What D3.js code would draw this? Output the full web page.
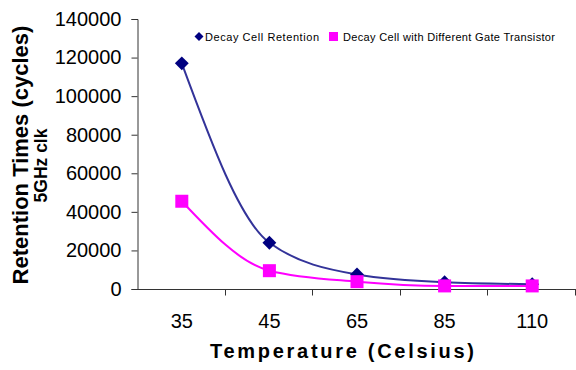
<!DOCTYPE html>
<html>
<head>
<meta charset="utf-8">
<script src="https://cdn.jsdelivr.net/npm/d3@7"></script>
<style>
  html, body { margin: 0; padding: 0; background: #fff; }
  svg { display: block; font-family: "Liberation Sans", Arial, sans-serif; }
</style>
</head>
<body>
<svg id="chart" width="576" height="370"></svg>
<script>
// Retention time (cycles at 5GHz) per temperature category
const temperatures = ["35", "45", "65", "85", "110"];
const decayRetention = [117000, 24000, 7500, 3500, 2500];
const differentGate = [45500, 9500, 3800, 1600, 1600];
const yTicks = [0, 20000, 40000, 60000, 80000, 100000, 120000, 140000];
const seriesNames = ["Decay Cell Retention", "Decay Cell with Different Gate Transistor"];

const svg = d3.select("#chart");
const plotLeft = 138, plotRight = 576, plotTop = 19, plotBottom = 289;

const x = d3.scaleBand().domain(temperatures).range([plotLeft, plotRight]).padding(0);
const y = d3.scaleLinear().domain([0, 140000]).range([plotBottom, plotTop]);
const cx = d => x(d) + x.bandwidth() / 2;

// Y axis
const yAxis = svg.append("g")
  .attr("transform", `translate(${plotLeft - 0.5},0)`)
  .call(d3.axisLeft(y).tickValues(yTicks).tickFormat(d3.format("d")).tickSize(6).tickPadding(10));
yAxis.select(".domain").attr("stroke", "#333");
yAxis.selectAll(".tick line").attr("stroke", "#333");
yAxis.selectAll(".tick text").attr("font-size", 20).attr("fill", "#000")
  .attr("font-family", "Liberation Sans, Arial, sans-serif");

// X axis: ticks sit on category boundaries
const xAxisG = svg.append("g").attr("transform", `translate(0,${plotBottom + 0.5})`);
xAxisG.append("line").attr("x1", plotLeft - 6).attr("x2", plotRight).attr("y1", 0).attr("y2", 0).attr("stroke", "#333");
const bounds = temperatures.map(t => x(t)).concat([x(temperatures[temperatures.length - 1]) + x.bandwidth()]);
xAxisG.selectAll("line.tk").data(bounds.slice(1)).join("line")
  .attr("class", "tk")
  .attr("x1", d => Math.min(Math.round(d) - 0.5, 575.5)).attr("x2", d => Math.min(Math.round(d) - 0.5, 575.5))
  .attr("y1", 0).attr("y2", 6).attr("stroke", "#333");
xAxisG.selectAll("text").data(temperatures).join("text")
  .attr("x", d => cx(d)).attr("y", 38.5)
  .attr("text-anchor", "middle").attr("font-size", 20).attr("fill", "#000")
  .text(d => d);

// Axis titles
svg.append("text")
  .attr("transform", "translate(27.5,155) rotate(-90)")
  .attr("text-anchor", "middle").attr("font-size", 22).attr("font-weight", "bold")
  .text("Retention Times (cycles)");
svg.append("text")
  .attr("transform", "translate(46.5,165.5) rotate(-90)")
  .attr("text-anchor", "middle").attr("font-size", 17.5).attr("font-weight", "bold")
  .text("5GHz clk");
svg.append("text")
  .attr("x", 210).attr("y", 358)
  .attr("font-size", 20).attr("font-weight", "bold")
  .attr("textLength", 264).attr("lengthAdjust", "spacing")
  .text("Temperature (Celsius)");

// Series
const line = d3.line().x((d, i) => cx(temperatures[i])).y(d => y(d)).curve(d3.curveMonotoneX);

svg.append("path").datum(decayRetention)
  .attr("d", line).attr("fill", "none").attr("stroke", "#333399").attr("stroke-width", 2);
svg.selectAll("path.blueMark").data(decayRetention).join("path")
  .attr("class", "blueMark")
  .attr("d", d3.symbol().type(d3.symbolSquare).size(96))
  .attr("transform", (d, i) => `translate(${cx(temperatures[i])},${y(d)}) rotate(45)`)
  .attr("fill", "#000080");

svg.append("path").datum(differentGate)
  .attr("d", line).attr("fill", "none").attr("stroke", "#FF00FF").attr("stroke-width", 2);
svg.selectAll("rect.pinkMark").data(differentGate).join("rect")
  .attr("class", "pinkMark")
  .attr("x", (d, i) => cx(temperatures[i]) - 6.5).attr("y", d => y(d) - 6.5)
  .attr("width", 13).attr("height", 13)
  .attr("fill", "#FF00FF");

// Legend
const lg = svg.append("g");
lg.append("path")
  .attr("d", d3.symbol().type(d3.symbolSquare).size(40))
  .attr("transform", "translate(199,36.5) rotate(45)")
  .attr("fill", "#000080");
lg.append("text").attr("x", 205).attr("y", 40.5).attr("font-size", 11)
  .attr("textLength", 114).attr("lengthAdjust", "spacing").text(seriesNames[0]);
lg.append("rect").attr("x", 329).attr("y", 32).attr("width", 9).attr("height", 9).attr("fill", "#FF00FF");
lg.append("text").attr("x", 343).attr("y", 40.5).attr("font-size", 11)
  .attr("textLength", 212).attr("lengthAdjust", "spacing").text(seriesNames[1]);
</script>
</body>
</html>
